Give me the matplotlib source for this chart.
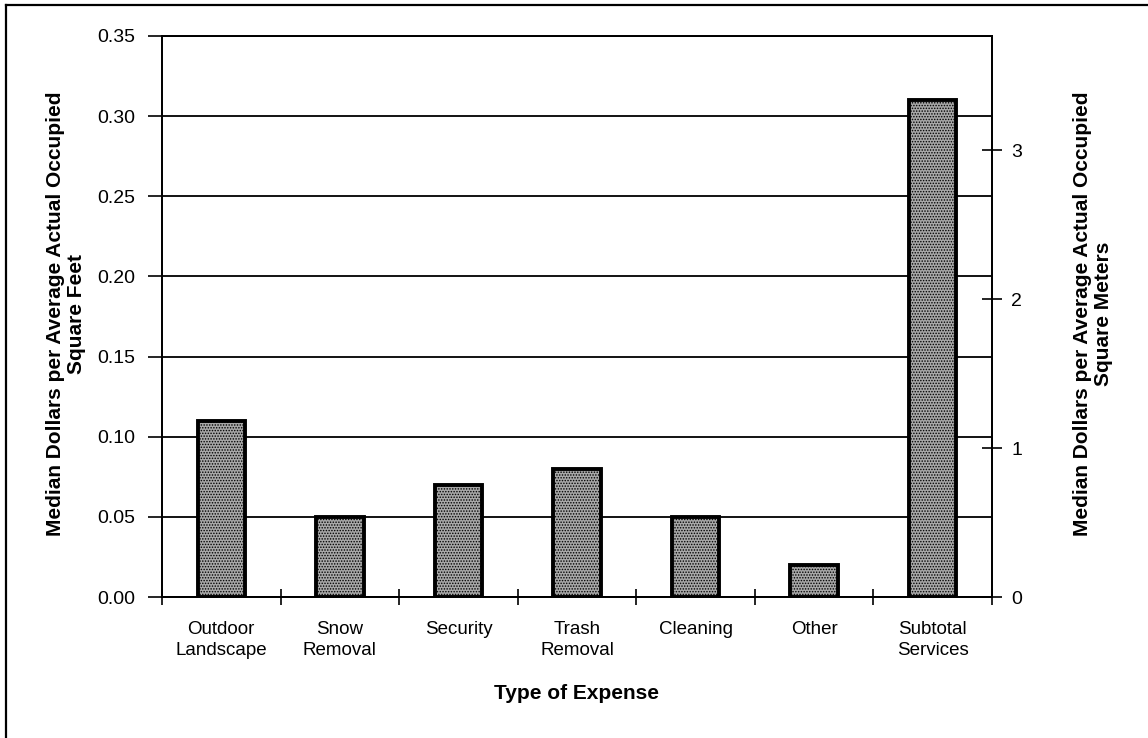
import numpy as np
import matplotlib.pyplot as plt
from matplotlib.lines import Line2D

plt.rcParams['font.family'] = ['Liberation Sans', 'DejaVu Sans']
plt.rcParams['hatch.color'] = '#606060'
plt.rcParams['hatch.linewidth'] = 0.7

# Данные
categories = ['Outdoor\nLandscape', 'Snow\nRemoval', 'Security', 'Trash\nRemoval',
              'Cleaning', 'Other', 'Subtotal\nServices']
values = [0.11, 0.05, 0.07, 0.08, 0.05, 0.02, 0.31]
sqft_per_sqm = 10.764

fig = plt.figure(figsize=(11.48, 7.38), dpi=100)
ax = fig.add_axes([162 / 1148, 1 - 597 / 738, (992 - 162) / 1148, (597 - 36) / 738])

x = np.arange(len(categories))
ax.bar(x, values, width=0.4, color='#a8a8a8', edgecolor='black', linewidth=2.8,
       hatch='......', zorder=3)

ax.set_xlim(-0.5, len(categories) - 0.5)
ax.set_ylim(0, 0.35)
yt = np.arange(0, 0.351, 0.05)
ax.set_yticks(yt)
ax.set_yticklabels([f'{v:.2f}' for v in yt], fontsize=14)
ax.yaxis.grid(True, color='black', linewidth=1.3, zorder=0)

# подписи категорий между делениями
ax.set_xticks(np.arange(-0.5, len(categories)))
ax.set_xticklabels([])
ax.set_xticks(x, minor=True)
ax.set_xticklabels(categories, minor=True, fontsize=13.5, linespacing=1.3)
ax.tick_params(axis='x', which='major', direction='inout', length=12, width=1.2)
ax.tick_params(axis='x', which='minor', length=0, pad=17)
ax.tick_params(axis='y', direction='out', length=10, width=1.2, pad=9)

for s in ax.spines.values():
    s.set_linewidth(1.3)

ax.set_xlabel('Type of Expense', fontsize=15, fontweight='bold')
ax.xaxis.set_label_coords(0.5, -0.155)
ax.set_ylabel('Median Dollars per Average Actual Occupied\nSquare Feet',
              fontsize=15, fontweight='bold', linespacing=1.15)
ax.yaxis.set_label_coords(-0.091, 0.505)

# правая ось в квадратных метрах
ax2 = ax.twinx()
ax2.set_ylim(0, 0.35 * sqft_per_sqm)
ax2.set_yticks([0, 1, 2, 3])
ax2.set_yticklabels(['0', '1', '2', '3'], fontsize=14)
ax2.tick_params(axis='y', direction='inout', length=14, width=1.2, pad=7)
ax2.set_ylabel('Median Dollars per Average Actual Occupied\nSquare Meters',
               fontsize=15, fontweight='bold', linespacing=1.15)
ax2.yaxis.set_label_coords(1.097, 0.505)
for s in ax2.spines.values():
    s.set_linewidth(1.3)

# рамка рисунка (только слева и сверху)
fig.add_artist(Line2D([6 / 1148, 6 / 1148], [0, 1 - 5 / 738], color='black', linewidth=1.6))
fig.add_artist(Line2D([6 / 1148, 1], [1 - 5 / 738, 1 - 5 / 738], color='black', linewidth=1.6))

fig.savefig('out.png', dpi=100)
